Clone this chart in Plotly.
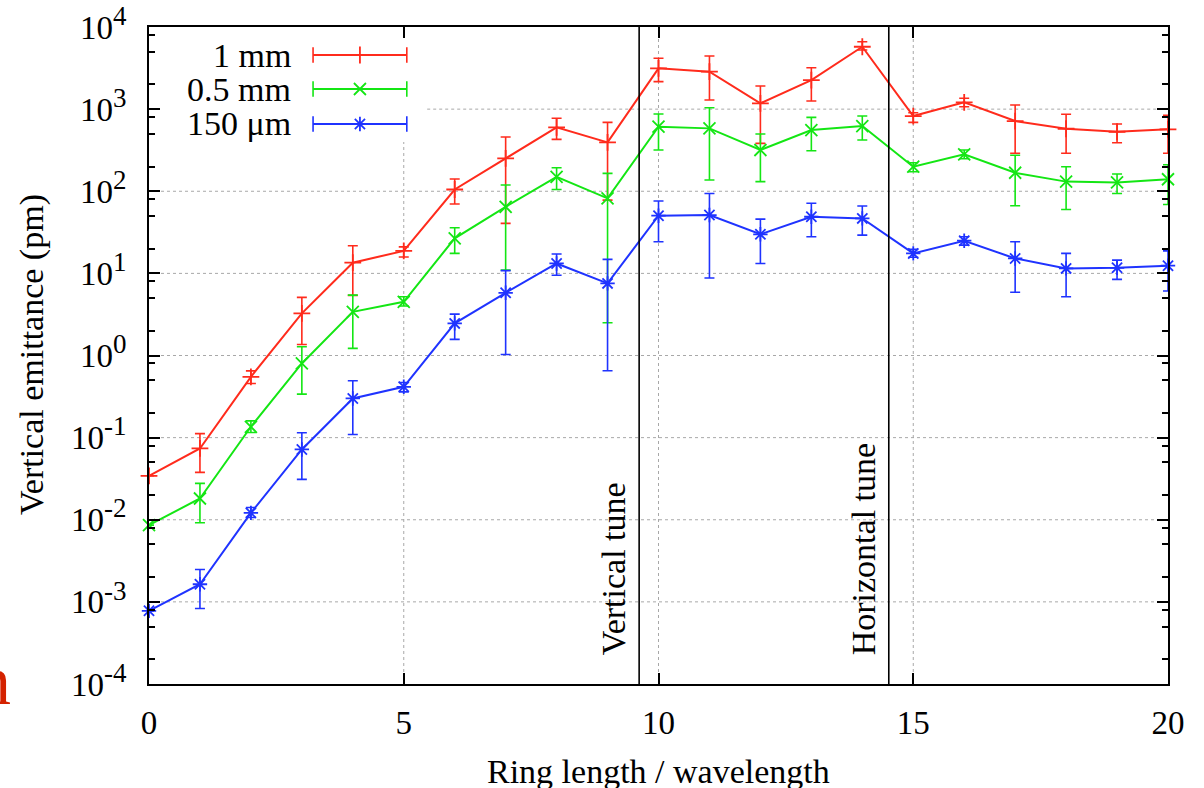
import plotly.graph_objects as go

# ---------------- data ----------------
ring_len = [0, 1, 2, 3, 4, 5, 6, 7, 8, 9, 10, 11, 12, 13, 14, 15, 16, 17, 18, 19, 20]

red_y = [0.0343, 0.0738, 0.55, 3.26, 13.5, 18.8, 105, 252, 600, 394, 3140, 2860, 1178, 2260, 5750, 824, 1210, 716, 577, 530, 568]
red_hi = [0.0343, 0.112, 0.65, 5.1, 21.7, 21, 141, 457, 773, 690, 4160, 4440, 1910, 3190, 6620, 903, 1355, 1122, 865, 658, 840]
red_lo = [0.0343, 0.0377, 0.457, 1.36, 5.4, 15.8, 69.8, 40.6, 428, 78, 2160, 1290, 383, 1256, 5250, 690, 1070, 290, 290, 390, 290]

green_y = [0.0086, 0.01815, 0.1355, 0.80, 3.40, 4.51, 26.7, 64.7, 150, 82, 611, 583, 318, 556, 622, 199, 281, 168, 131, 128, 140]
green_hi = [0.0086, 0.0277, 0.160, 1.28, 5.44, 5.19, 35.9, 119, 193, 165, 871, 1040, 498, 794, 824, 222, 318, 274, 199, 162, 210]
green_lo = [0.0086, 0.00918, 0.1156, 0.339, 1.22, 4.0, 17.5, 10.96, 105, 2.5, 318, 137, 131, 311, 421, 173, 249, 66.5, 60, 94, 69]

blue_y = [0.000778, 0.00164, 0.01213, 0.0718, 0.30, 0.416, 2.46, 5.8, 13.2, 7.55, 50.4, 51.3, 29.9, 48.9, 46.7, 17.5, 25, 15.2, 11.5, 11.7, 12.4]
blue_hi = [0.000778, 0.00248, 0.0141, 0.1146, 0.492, 0.47, 3.19, 10.8, 17.2, 14.8, 76, 94, 45.8, 71.3, 66, 19.6, 27.9, 24.3, 17.5, 14.5, 18.8]
blue_lo = [0.000778, 0.00083, 0.01067, 0.031, 0.109, 0.361, 1.57, 1.03, 9.5, 0.652, 24.3, 8.8, 13.2, 27.9, 29.2, 15.7, 22.1, 5.9, 5.2, 8.46, 6.1]

series_names = ["1 mm", "0.5 mm", "150 μm"]

x_tickvals = [0, 5, 10, 15, 20]
y_tickvals = [1e-4, 1e-3, 1e-2, 1e-1, 1e0, 1e1, 1e2, 1e3, 1e4]
y_exponents = ["-4", "-3", "-2", "-1", "0", "1", "2", "3", "4"]
y_minor = [m * 10.0 ** e for e in range(-4, 4) for m in (2, 5, 8)]

vertical_tune = 9.62
horizontal_tune = 14.52

# ---------------- style ----------------
FONT = "Liberation Serif"
RED, GREEN, BLUE = "#ff2b1c", "#14e614", "#1f33ff"
SYMS = ["cross-thin", "x-thin", "asterisk"]
GRID = "#a8a8a8"
FS = 34
W, H = 1204, 788
L, R, T, B = 149, 36, 27, 104

y_ticktext = ["10<sup><span style='font-size:27px'>%s</span></sup>" % e for e in y_exponents]

fig = go.Figure()

for name, ys, hi, lo, col, sym in [
    (series_names[0], red_y, red_hi, red_lo, RED, SYMS[0]),
    (series_names[1], green_y, green_hi, green_lo, GREEN, SYMS[1]),
    (series_names[2], blue_y, blue_hi, blue_lo, BLUE, SYMS[2]),
]:
    up = [h - v for h, v in zip(hi, ys)]
    dn = [v - l for v, l in zip(ys, lo)]
    fig.add_trace(go.Scatter(
        x=ring_len, y=ys, name=name, mode="lines+markers",
        line=dict(color=col, width=2),
        marker=dict(symbol=sym, size=12, color=col, line=dict(color=col, width=1.8)),
        error_y=dict(type="data", symmetric=False, array=up, arrayminus=dn,
                     color=col, thickness=1.6, width=5),
        cliponaxis=False, showlegend=False,
    ))

# ---- gnuplot-style key (text left, sample right) ----
key_x = [3.22, 4.14, 5.06]           # sample start / marker / end (data units)
key_y = [4560, 1758, 658]            # row heights (data units)
for i, (col, sym) in enumerate([(RED, SYMS[0]), (GREEN, SYMS[1]), (BLUE, SYMS[2])]):
    fig.add_trace(go.Scatter(
        x=[key_x[0], key_x[2]], y=[key_y[i], key_y[i]], mode="lines+markers",
        line=dict(color=col, width=2),
        marker=dict(symbol="line-ns", size=11, color=col, line=dict(color=col, width=1.6)),
        showlegend=False, hoverinfo="skip", cliponaxis=False))
    fig.add_trace(go.Scatter(
        x=[key_x[1]], y=[key_y[i]], mode="markers",
        marker=dict(symbol=sym, size=12, color=col, line=dict(color=col, width=1.8)),
        showlegend=False, hoverinfo="skip", cliponaxis=False))

pw, ph = W - L - R, H - T - B
def dx(px):
    return (px - L) / pw
def dy(py):
    return (H - B - py) / ph

grid_line = dict(color=GRID, width=1, dash="dot")
shapes = []
# horizontal grid at inner decades (the key box interrupts the 10^3 line)
for v in y_tickvals[1:-1]:
    x0 = 0 if v < 1e3 else 5.46
    shapes.append(dict(type="line", xref="x", yref="y", x0=x0, x1=20, y0=v, y1=v,
                       line=grid_line, layer="below"))
# vertical grid at inner x ticks (key box interrupts x=5)
for v in x_tickvals[1:-1]:
    ytop = 1 if v != 5 else dy(142)
    shapes.append(dict(type="line", xref="x", yref="y domain", x0=v, x1=v, y0=0, y1=ytop,
                       line=grid_line, layer="below"))
shapes += [
    dict(type="line", xref="x", yref="y domain", x0=vertical_tune, x1=vertical_tune,
         y0=0, y1=1, line=dict(color="black", width=1.6)),
    dict(type="line", xref="x", yref="y domain", x0=horizontal_tune, x1=horizontal_tune,
         y0=0, y1=1, line=dict(color="black", width=1.6)),
]

annotations = []
for i, nm in enumerate(series_names):
    annotations.append(dict(text=nm, xref="x domain", yref="y domain", x=dx(293),
                            y=dy([55, 89, 123][i]), xanchor="right", yanchor="middle",
                            showarrow=False, font=dict(family=FONT, size=FS, color="black")))
annotations += [
    dict(text="Vertical tune", xref="x", yref="y domain", x=vertical_tune, y=dy(657),
         xanchor="right", yanchor="bottom", xshift=-5, textangle=-90, showarrow=False,
         font=dict(family=FONT, size=FS, color="black")),
    dict(text="Horizontal tune", xref="x", yref="y domain", x=horizontal_tune, y=dy(657),
         xanchor="right", yanchor="bottom", xshift=-5, textangle=-90, showarrow=False,
         font=dict(family=FONT, size=FS, color="black")),
    dict(text="Vertical emittance (pm)", xref="paper", yref="paper", x=dx(32), y=dy(355),
         xanchor="center", yanchor="middle", textangle=-90, showarrow=False,
         font=dict(family=FONT, size=FS, color="black")),
    dict(text="Ring length / wavelength", xref="paper", yref="paper", x=0.5, y=dy(771),
         xanchor="center", yanchor="middle", showarrow=False,
         font=dict(family=FONT, size=FS, color="black")),
    dict(text="n", xref="paper", yref="paper", x=dx(13), y=dy(680),
         xanchor="right", yanchor="middle", showarrow=False,
         font=dict(family=FONT, size=70, color="#d42200")),
]

axis_common = dict(ticks="inside", ticklen=11, tickwidth=1.5, tickcolor="black",
                   showline=True, linecolor="black", linewidth=2, mirror="allticks",
                   showgrid=False, zeroline=False, automargin=False,
                   tickfont=dict(family=FONT, size=33, color="black"))

fig.update_layout(
    width=W, height=H, margin=dict(l=L, r=R, t=T, b=B, autoexpand=False),
    paper_bgcolor="white", plot_bgcolor="rgba(0,0,0,0)",
    font=dict(family=FONT, size=FS, color="black"),
    shapes=shapes, annotations=annotations,
    xaxis=dict(range=[0, 20], tickmode="array", tickvals=x_tickvals,
               ticklabelstandoff=8, **axis_common),
    yaxis=dict(type="log", range=[-4, 4], tickmode="array", tickvals=y_tickvals,
               ticktext=y_ticktext, ticklabelstandoff=14,
               minor=dict(tickmode="array", tickvals=y_minor, ticks="inside",
                          ticklen=6, tickwidth=1.5, tickcolor="black", showgrid=False),
               **axis_common),
)

fig.write_html("out.html")
